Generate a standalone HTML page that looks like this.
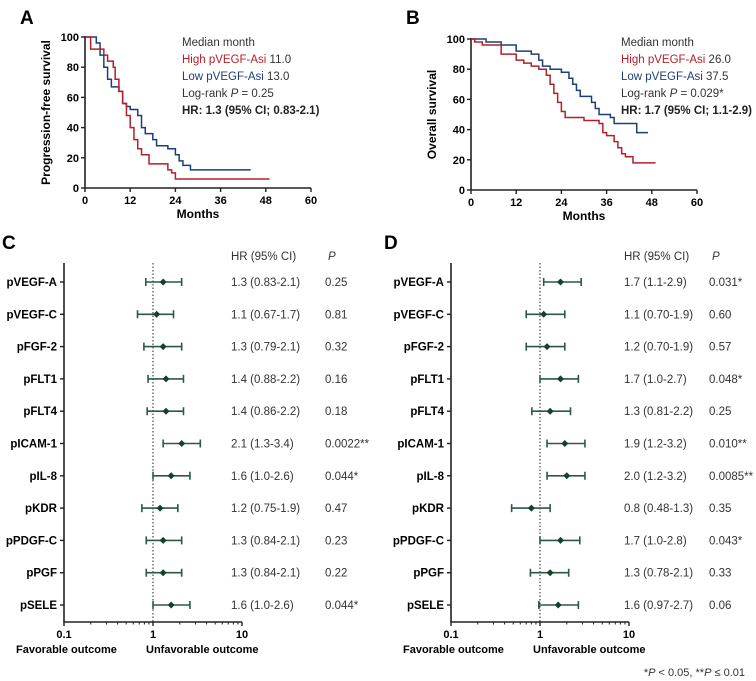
<!DOCTYPE html>
<html><head><meta charset="utf-8"><style>
body{margin:0;background:#fff}
svg{display:block;font-family:"Liberation Sans",Arial,sans-serif}
</style></head><body>
<svg id="s" width="756" height="681" viewBox="0 0 756 681" xmlns="http://www.w3.org/2000/svg"></svg>
<script>
// ---- KM data (time, survival %) ----
const aRedT=[0,1,1.5,5,6,7.5,8,9,10,11,12,13,14,15,17,22,23,24,49];
const aRedS=[100,100,92,88,84,80,72,64,56,48,40,32,26,22,16,12,10,6,6];
const aBlueT=[0,3,4,5,6,7,9,10,11,12,14,15,16,18,19,22,24,25,26,28,44];
const aBlueS=[100,96,88,80,72,67,64,56,54,52,48,40,36,32,28,26,22,18,15,12,12];
const bRedT=[0,1,3,8,12,14,16,18,20,21,22,23,24,25,30,34,35,36,38,39,40,41,43,49];
const bRedS=[100,98,96,90,86,84,82,80,76,70,64,58,52,48,46,44,38,36,32,28,24,22,18,18];
const bBlueT=[0,4,8,12,16,18,19,21,24,26,27,28,29,32,33,34,37,38,44,47];
const bBlueS=[100,98,96,92,90,86,82,80,78,74,70,66,62,58,54,50,48,44,38,38];
const kmTicksX=[0,12,24,36,48,60];
const kmTicksY=[0,20,40,60,80,100];
// ---- Forest data ----
const markers=["pVEGF-A","pVEGF-C","pFGF-2","pFLT1","pFLT4","pICAM-1","pIL-8","pKDR","pPDGF-C","pPGF","pSELE"];
const cHR=[1.3,1.1,1.3,1.4,1.4,2.1,1.6,1.2,1.3,1.3,1.6];
const cLo=[0.83,0.67,0.79,0.88,0.86,1.3,1.0,0.75,0.84,0.84,1.0];
const cHi=[2.1,1.7,2.1,2.2,2.2,3.4,2.6,1.9,2.1,2.1,2.6];
const cTxt=["1.3 (0.83-2.1)","1.1 (0.67-1.7)","1.3 (0.79-2.1)","1.4 (0.88-2.2)","1.4 (0.86-2.2)","2.1 (1.3-3.4)","1.6 (1.0-2.6)","1.2 (0.75-1.9)","1.3 (0.84-2.1)","1.3 (0.84-2.1)","1.6 (1.0-2.6)"];
const cP=["0.25","0.81","0.32","0.16","0.18","0.0022**","0.044*","0.47","0.23","0.22","0.044*"];
const dHR=[1.7,1.1,1.2,1.7,1.3,1.9,2.0,0.8,1.7,1.3,1.6];
const dLo=[1.1,0.70,0.70,1.0,0.81,1.2,1.2,0.48,1.0,0.78,0.97];
const dHi=[2.9,1.9,1.9,2.7,2.2,3.2,3.2,1.3,2.8,2.1,2.7];
const dTxt=["1.7 (1.1-2.9)","1.1 (0.70-1.9)","1.2 (0.70-1.9)","1.7 (1.0-2.7)","1.3 (0.81-2.2)","1.9 (1.2-3.2)","2.0 (1.2-3.2)","0.8 (0.48-1.3)","1.7 (1.0-2.8)","1.3 (0.78-2.1)","1.6 (0.97-2.7)"];
const dP=["0.031*","0.60","0.57","0.048*","0.25","0.010**","0.0085**","0.35","0.043*","0.33","0.06"];
const forestTicks=[0.1,1,10];

const NS="http://www.w3.org/2000/svg";
const S=document.getElementById('s');
function el(tag,attrs,parent,text){const e=document.createElementNS(NS,tag);for(const k in attrs)e.setAttribute(k,attrs[k]);if(text!==undefined)e.textContent=text;(parent||S).appendChild(e);return e;}

function km(x0,x1,y0,y1,tR,sR,tB,sB,ylab,letter,lx,info){
  const g=el('g',{});
  
  
  const X=t=>x0+(x1-x0)*t/60, Y=s=>y0-(y0-y1)*s/100;
  const t=el('text',{x:lx,y:24,'font-size':19,'font-weight':'bold'},g,letter);
  
  
  const ax=el('path',{d:`M${x0},${y1-1}V${y0}H${x1}`,stroke:'#222','stroke-width':1.6,fill:'none'},g);
  
  
  kmTicksX.forEach(v=>{el('line',{x1:X(v),x2:X(v),y1:y0,y2:y0+4,stroke:'#222','stroke-width':1.4},g);
    const l=el('text',{x:X(v),y:y0+16,'font-size':11,'font-weight':'bold','text-anchor':'middle'},g,v);
    
    });
  kmTicksY.forEach(v=>{el('line',{x1:x0-4,x2:x0,y1:Y(v),y2:Y(v),stroke:'#222','stroke-width':1.4},g);
    const l=el('text',{x:x0-6,y:Y(v)+4,'font-size':11,'font-weight':'bold','text-anchor':'end'},g,v);
    
    });
  const xt=el('text',{x:(x0+x1)/2,y:y0+30,'font-size':12,'font-weight':'bold','text-anchor':'middle'},g,'Months');
  
  
  const yt=el('text',{x:0,y:0,'font-size':12,'font-weight':'bold','text-anchor':'middle',transform:`translate(${x0-35},${(y0+y1)/2}) rotate(-90)`},g,ylab);
  
  
  [[tB,sB,'#1d3f78','low'],[tR,sR,'#b3202a','high']].forEach(([T,Sv,c,n])=>{
    let d=`M${X(T[0])},${Y(Sv[0])}`;
    for(let i=1;i<T.length;i++){d+=`H${X(T[i])}V${Y(Sv[i])}`;}
    const p=el('path',{d,stroke:c,'stroke-width':1.5,fill:'none'},g);
    
    
  });
  const lines=[['Median month','#333'],['High pVEGF-Asi '+info[0],'#b3202a'],['Low pVEGF-Asi '+info[1],'#1d3f78']];
  const tx=info[4];
  lines.forEach((L,i)=>{const tt=el('text',{x:tx,y:46+i*17,'font-size':11.5,fill:L[1]},g);
    const parts=L[0].split(/ (?=[\d.]+$)/);
    el('tspan',{},tt,parts[0]);
    if(parts[1]) el('tspan',{fill:'#333'},tt,' '+parts[1]);
    
    });
  const lr=el('text',{x:tx,y:97,'font-size':11.5,fill:'#333'},g);
  el('tspan',{},lr,'Log-rank ');el('tspan',{'font-style':'italic'},lr,'P');el('tspan',{},lr,' = '+info[2]);
  
  
  const hr=el('text',{x:tx,y:114,'font-size':11.5,'font-weight':'bold',fill:'#222'},g,info[3]);
  
  
}
km(85,311,188,37,aRedT,aRedS,aBlueT,aBlueS,'Progression-free survival','A',20,['11.0','13.0','0.25','HR: 1.3 (95% CI; 0.83-2.1)',182]);
km(471,697,190,39,bRedT,bRedS,bBlueT,bBlueS,'Overall survival','B',406,['26.0','37.5','0.029*','HR: 1.7 (95% CI; 1.1-2.9)',621]);

function forest(ax,hrx,px,letter,lx,HR,LO,HI,TXT,P){
  const g=el('g',{});
  
  
  const X=v=>ax+89*Math.log10(v/0.1);
  const top=263,bot=622,r0=282,rs=32.3;
  const t=el('text',{x:lx,y:249,'font-size':19,'font-weight':'bold'},g,letter);
  
  
  const a=el('path',{d:`M${ax},${top}V${bot}H${X(10)}`,stroke:'#222','stroke-width':1.6,fill:'none'},g);
  
  
  for(let dec=0.1;dec<10;dec*=10){for(let k=2;k<=9;k++){el('line',{x1:X(dec*k),x2:X(dec*k),y1:bot,y2:bot+2.5,stroke:'#222','stroke-width':1},g);}}
  forestTicks.forEach(v=>{el('line',{x1:X(v),x2:X(v),y1:bot,y2:bot+4,stroke:'#222','stroke-width':1.4},g);
    const l=el('text',{x:X(v),y:bot+16,'font-size':11,'font-weight':'bold','text-anchor':'middle'},g,v);
    
    });
  const ref=el('line',{x1:X(1),x2:X(1),y1:top,y2:bot,stroke:'#222','stroke-width':1,'stroke-dasharray':'1.5,2'},g);
  
  
  const f=el('text',{x:X(0.1)-48,y:bot+31,'font-size':11,'font-weight':'bold'},g,'Favorable outcome');
  
  
  const u=el('text',{x:X(1)-7,y:bot+31,'font-size':11,'font-weight':'bold'},g,'Unfavorable outcome');
  
  
  const h1=el('text',{x:hrx,y:260,'font-size':11.5,fill:'#333'},g,'HR (95% CI)');
  
  
  const h2=el('text',{x:px+3,y:260,'font-size':11.5,fill:'#333','font-style':'italic'},g,'P');
  
  
  markers.forEach((m,i)=>{
    const y=r0+i*rs;
    el('line',{x1:ax-4,x2:ax,y1:y,y2:y,stroke:'#222','stroke-width':1.4},g);
    const l=el('text',{x:ax-7,y:y+4,'font-size':11.5,'font-weight':'bold','text-anchor':'end'},g,m);
    
    
    const ci=el('path',{d:`M${X(LO[i])},${y}H${X(HI[i])}M${X(LO[i])},${y-4}V${y+4}M${X(HI[i])},${y-4}V${y+4}`,stroke:'#2a5a44','stroke-width':1.6,fill:'none'},g);
    
    
    const pt=el('path',{d:`M${X(HR[i])},${y-3.5}l3.5,3.5l-3.5,3.5l-3.5,-3.5z`,fill:'#163f2c'},g);
    
    
    const tt=el('text',{x:hrx,y:y+4,'font-size':11.5,fill:'#333'},g,TXT[i]);
    
    
    const pp=el('text',{x:px,y:y+4,'font-size':11.5,fill:'#333'},g,P[i]);
    
    
  });
}
forest(64,231,325,'C',2,cHR,cLo,cHi,cTxt,cP);
forest(451,624,709,'D',384,dHR,dLo,dHi,dTxt,dP);
const fn=el('text',{x:745,y:676,'font-size':11,fill:'#333','text-anchor':'end'});
el('tspan',{},fn,'*');el('tspan',{'font-style':'italic'},fn,'P');el('tspan',{},fn,' < 0.05, **');el('tspan',{'font-style':'italic'},fn,'P');el('tspan',{},fn,' ≤ 0.01');


</script>
</body></html>
